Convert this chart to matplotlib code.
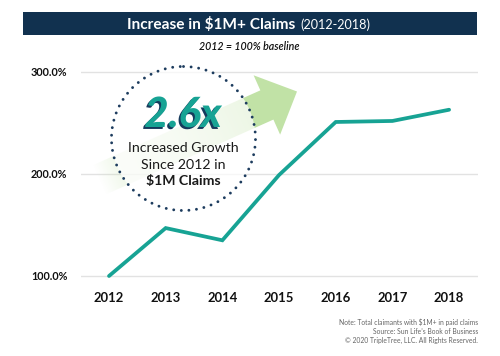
import matplotlib
matplotlib.use("Agg")
import matplotlib.pyplot as plt
import numpy as np
from matplotlib.patches import Rectangle, Polygon, Circle
from matplotlib.ticker import FuncFormatter
import matplotlib.patheffects as pe
from matplotlib.colors import to_rgb

# ---------------- data ----------------
years = [2012, 2013, 2014, 2015, 2016, 2017, 2018]
values = [100, 147, 135, 199, 251, 252, 263]
y_ticks = [100, 200, 300]
x_labels = ["2012", "2013", "2014", "2015", "2016", "2017", "2018"]

title_main = "Increase in $1M+ Claims"
title_sub = "(2012-2018)"
subtitle = "2012 = 100% baseline"
callout_big = "2.6x"
callout_lines = ["Increased Growth", "Since 2012 in"]
callout_bold = "$1M Claims"
notes = ["Note: Total claimants with $1M+ in paid claims",
         "Source: Sun Life\u2019s Book of Business",
         "\u00a9 2020 TripleTree, LLC. All Rights Reserved."]

# ---------------- style ----------------
plt.rcParams['font.family'] = ['Lato', 'DejaVu Sans']
NAVY = "#11314f"
TEAL = "#17a394"
GREEN = "#c2e2a6"

W, H = 500, 356
fig = plt.figure(figsize=(W / 100, H / 100), dpi=100)

# main axes: gridlines and line
ax = fig.add_axes([81 / W, (H - 286.2) / H, 397 / W, 224.4 / H])
ax.set_xlim(2011.506, 2018.51)
ax.set_ylim(90, 310)
ax.plot(years, values, color=TEAL, lw=2.7, solid_joinstyle='miter',
        solid_capstyle='round', zorder=3)
ax.set_yticks(y_ticks)
ax.yaxis.set_major_formatter(FuncFormatter(lambda v, p: f"{v:.1f}%"))
ax.set_xticks(years)
ax.set_xticklabels(x_labels)
ax.grid(axis='y', color='#e2e2e2', lw=1.0)
ax.set_axisbelow(True)
for s in ax.spines.values():
    s.set_visible(False)
ax.tick_params(axis='y', length=0, pad=9.8, labelsize=7.8, labelcolor='#111111')
ax.tick_params(axis='x', length=0, pad=4.5, labelsize=9.4, labelcolor='#111111')
for lab in ax.get_yticklabels() + ax.get_xticklabels():
    lab.set_fontweight('bold')

# overlay axes in pixel coordinates for decorations
ov = fig.add_axes([0, 0, 1, 1], zorder=3)
ov.patch.set_alpha(0)
ov.axis('off')

# gradient arrow
tail = np.array([99.0, 180.0])
tip = np.array([297.0, 91.5])
L = np.linalg.norm(tip - tail)
u = (tip - tail) / L
n = np.array([-u[1], u[0]])
head_len, head_hw, body_hw = 33.0, 32.5, 16.0
base = tip - u * head_len
pts = [tail + n * body_hw, tail - n * body_hw, base - n * body_hw,
       base - n * head_hw, tip, base + n * head_hw, base + n * body_hw]
poly = Polygon(pts, closed=True, facecolor='none', edgecolor='none')
ov.add_patch(poly)
x0, x1, y0, y1 = 75, 310, 55, 220
nx, ny = 470, 330
gx, gy = np.meshgrid(np.linspace(x0, x1, nx), np.linspace(y0, y1, ny))
t = ((gx - tail[0]) * u[0] + (gy - tail[1]) * u[1]) / L
alpha = 0.25 + 0.75 * np.clip((t - 0.12) / 0.63, 0, 1) ** 1.6
alpha *= np.clip(t / 0.12, 0, 1)
rgba = np.zeros((ny, nx, 4))
rgba[..., :3] = to_rgb(GREEN)
rgba[..., 3] = np.clip(alpha, 0, 1)
im = ov.imshow(rgba, extent=(x0, x1, y1, y0), origin='upper',
               interpolation='bilinear', aspect='auto', zorder=1)
im.set_clip_path(poly)

# white veil inside the circle + dotted outline
veil = Circle((183.5, 138.5), 72, facecolor='white', edgecolor='none',
              alpha=0.72, zorder=2)
ov.add_patch(veil)
circ = Circle((183.5, 138.5), 72, facecolor='none', edgecolor='#1d3c5e',
              lw=2.1, linestyle=(0, (0.01, 2.6)), zorder=3)
circ.set_capstyle('round')
ov.add_patch(circ)

ov.set_xlim(0, W)
ov.set_ylim(H, 0)

# callout texts
ov.text(183, 127, callout_big, ha='center', va='baseline', fontsize=30,
        fontweight='black', style='italic', color=TEAL, zorder=4,
        path_effects=[pe.withSimplePatchShadow(offset=(-1.4, -1.4),
                                               shadow_rgbFace='#163a5c', alpha=1)])
ov.text(183.5, 151.5, callout_lines[0], ha='center', va='baseline',
        fontsize=10.2, color='#1a1a1a', zorder=4)
ov.text(183.5, 169, callout_lines[1], ha='center', va='baseline',
        fontsize=10.2, color='#1a1a1a', zorder=4)
ov.text(183.5, 185.5, callout_bold, ha='center', va='baseline',
        fontsize=10.2, fontweight='bold', color='#1a1a1a', zorder=4,
        parse_math=False)

# title bar
ov.add_patch(Rectangle((23, 12), 454, 23.3, facecolor=NAVY, edgecolor='none', zorder=1))
t1 = ov.text(0, 29, title_main, ha='left', va='baseline', fontsize=11.1,
             fontweight='bold', color='white', zorder=4, parse_math=False)
t2 = ov.text(0, 29, title_sub, ha='left', va='baseline', fontsize=9.1,
             color='white', zorder=4)
fig.canvas.draw()
r = fig.canvas.get_renderer()
w1 = t1.get_window_extent(r).width
w2 = t2.get_window_extent(r).width
gap = 5
start = 249 - (w1 + gap + w2) / 2
t1.set_x(start)
t2.set_x(start + w1 + gap)

ov.text(249, 49.5, subtitle, ha='center', va='baseline', fontsize=7.7,
        style='italic', fontweight='semibold', color='#111111', zorder=4)

for i, line in enumerate(notes):
    ov.text(478, 324.5 + 9 * i, line, ha='right', va='baseline', fontsize=4.9,
            color='#666666', zorder=4, parse_math=False)

fig.savefig("out.png", dpi=100)
